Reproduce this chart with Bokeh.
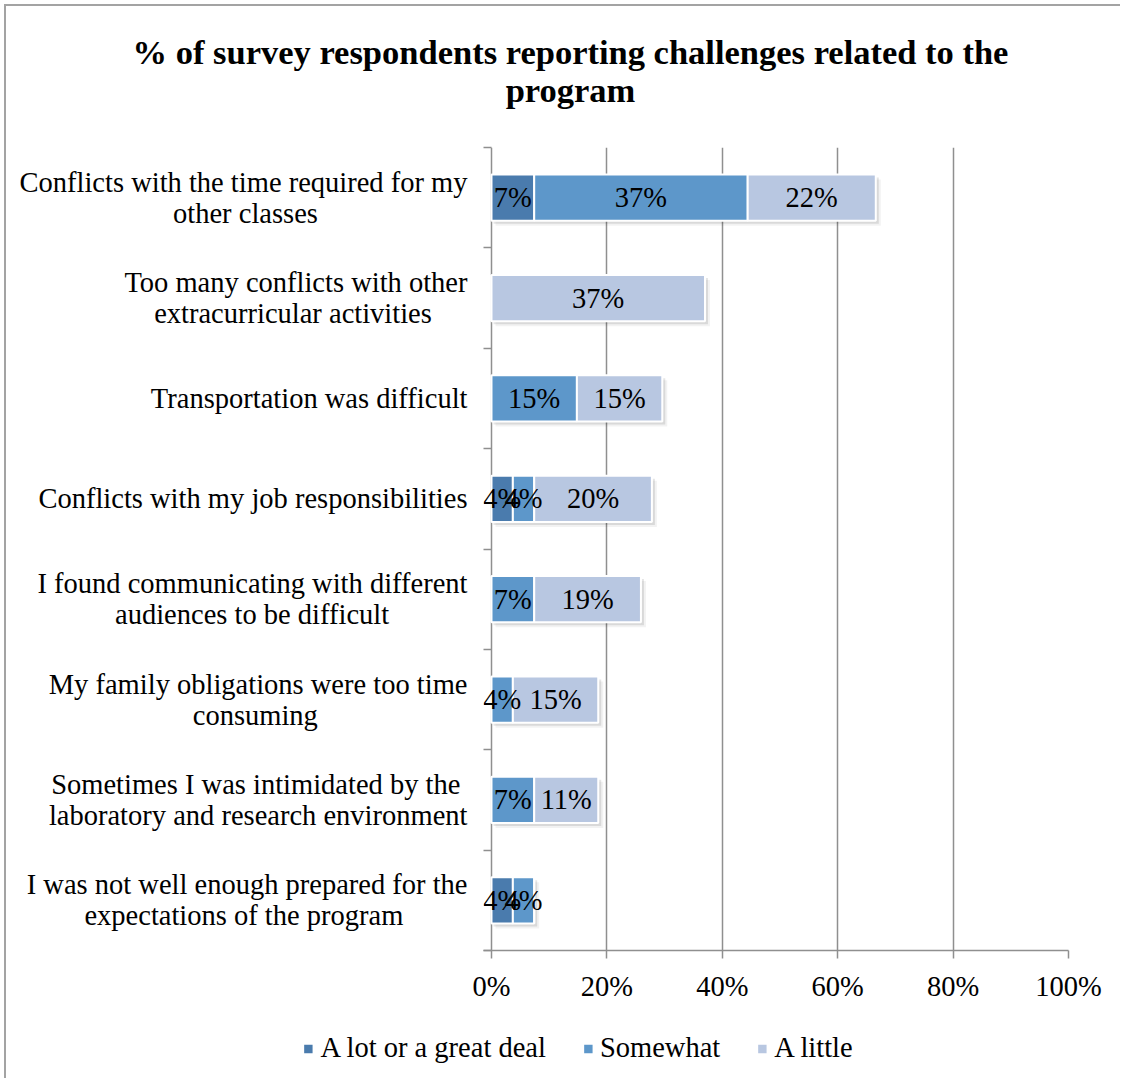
from bokeh.plotting import figure
from bokeh.layouts import column
from bokeh.models import (Range1d, FixedTicker, PrintfTickFormatter, ColumnDataSource,
                          Legend, LegendItem)
from bokeh.core.properties import value
from bokeh.embed import file_html
from bokeh.resources import INLINE

# ---------------- data ----------------
categories = [
    "Conflicts with the time required for my\nother classes",
    "Too many conflicts with other\nextracurricular activities",
    "Transportation was difficult",
    "Conflicts with my job responsibilities",
    "I found communicating with different\naudiences to be difficult",
    "My family obligations were too time\nconsuming",
    "Sometimes I was intimidated by the\nlaboratory and research environment",
    "I was not well enough prepared for the\nexpectations of the program",
]
a_lot = [7.4, 0, 0, 3.7, 0, 0, 0, 3.7]
somewhat = [37.0, 0, 14.8, 3.7, 7.4, 3.7, 7.4, 3.7]
a_little = [22.2, 37.0, 14.8, 20.4, 18.5, 14.8, 11.1, 0]
series_names = ["A lot or a great deal", "Somewhat", "A little"]
x_ticks = [0, 20, 40, 60, 80, 100]
title_lines = ["% of survey respondents reporting challenges related to the", "program"]

# ---------------- style ----------------
FONT = "Liberation Serif"
COLORS = ["#4A7BAD", "#5D97CA", "#B8C7E1"]
GRID = "#8f8f8f"
FS = 28.5        # text size px
TS = 34.5        # title size px
TICK = 8         # category tick length px

ORIGIN = 6                                   # canvas origin on the page
W, HT, H1, H2 = 1114, 135, 877, 60           # title strip, chart, legend strip heights
TOP = 6                                      # chart frame top inside the chart figure
X0, FR = 485, 1062                           # x=0 position and frame right (figure px)
FL = X0 - TICK                               # frame starts a tick length left of x=0
FB = TOP + 803                               # frame bottom

# approximate glyph advance widths (1/1000 em) of Liberation Serif, for centring lines
REG = {' ': 250, 'a': 444, 'b': 500, 'c': 444, 'd': 500, 'e': 444, 'f': 333, 'g': 500,
       'h': 500, 'i': 278, 'j': 278, 'k': 500, 'l': 278, 'm': 778, 'n': 500, 'o': 500,
       'p': 500, 'q': 500, 'r': 333, 's': 389, 't': 278, 'u': 500, 'v': 500, 'w': 722,
       'x': 500, 'y': 500, 'z': 444, 'C': 667, 'I': 333, 'M': 889, 'S': 556, 'T': 611}
NBSP = "\u00a0"


def width(s, table):
    return sum(table.get(ch, 500) for ch in s)


def centred(lines, table):
    wmax = max(width(l, table) for l in lines)
    out = []
    for l in lines:
        out.append(l + NBSP * int(round((wmax - width(l, table)) / 2 / 250)))
    return "\n".join(out)


def strip(height, **kw):
    f = figure(width=W, height=height, output_backend="svg", toolbar_location=None,
               x_range=Range1d(0, W), y_range=Range1d(height, 0),
               x_axis_type=None, y_axis_type=None, min_border=0, **kw)
    f.frame_align = False
    f.outline_line_color = None
    f.grid.visible = False
    return f


# ---------------- title strip ----------------
pt = strip(HT)
pt.text(x=[570 - ORIGIN] * 2, y=[51 - ORIGIN, 89 - ORIGIN], text=title_lines,
        text_align="center", text_baseline="middle", text_font=value(FONT),
        text_font_size=f"{TS}px", text_font_style="bold", text_color="black")

# ---------------- chart ----------------
n = len(categories)
px_x = 100.0 / (FR - X0)
px_y = n / (FB - TOP)
p = figure(width=W, height=H1, output_backend="svg", toolbar_location=None,
           x_range=Range1d(-TICK * px_x, 100), y_range=Range1d(n, 0),
           min_border_left=FL, min_border_right=W - FR,
           min_border_top=TOP, min_border_bottom=H1 - FB)
p.frame_align = False
p.outline_line_color = None
p.background_fill_color = "white"
p.border_fill_color = "white"

ys = [i + 0.5 for i in range(n)]
series = [a_lot, somewhat, a_little]
left = [0.0] * n
sources = []
labels_x, labels_y, labels_t = [], [], []
for vals in series:
    right = [l + v for l, v in zip(left, vals)]
    sources.append(ColumnDataSource(dict(y=ys, left=left, right=right)))
    for i in range(n):
        if vals[i] > 0:
            labels_x.append((left[i] + right[i]) / 2)
            labels_y.append(ys[i])
            labels_t.append(f"{int(vals[i] + 0.5)}%")
    left = right
totals = left

# soft shadow under each stacked bar
for off, alpha in [(3, 0.10), (5, 0.05)]:
    sh = ColumnDataSource(dict(y=[y + off * px_y for y in ys],
                               left=[(off - 1) * px_x] * n,
                               right=[t + off * px_x if t > 0 else 0 for t in totals]))
    p.hbar(y="y", left="left", right="right", height=0.46, source=sh,
           fill_color="black", fill_alpha=alpha, line_color=None)

for k, src in enumerate(sources):
    p.hbar(y="y", left="left", right="right", height=0.46, source=src,
           fill_color=COLORS[k], line_color="white", line_width=2)

p.text(x=labels_x, y=labels_y, text=labels_t, text_align="center",
       text_baseline="middle", text_font=value(FONT), text_font_size=f"{FS}px",
       text_color="black")

# ---------------- axes ----------------
xa = p.xaxis[0]
xa.ticker = FixedTicker(ticks=x_ticks)
xa.formatter = PrintfTickFormatter(format="%d%%")
xa.axis_line_color = GRID
xa.axis_line_width = 1.5
xa.major_tick_line_color = GRID
xa.major_tick_line_width = 1.5
xa.major_tick_out = 8
xa.major_tick_in = 0
xa.minor_tick_line_color = None
xa.major_label_text_font = FONT
xa.major_label_text_font_size = f"{FS}px"
xa.major_label_text_color = "black"
xa.major_label_standoff = 12

# category axis: its line is the x=0 grid line; the category boundary ticks are drawn
# inward over the strip between the frame edge and x=0
ya = p.yaxis[0]
ya.ticker = FixedTicker(ticks=ys, minor_ticks=list(range(n + 1)))
ya.major_label_overrides = {y: centred(c.split("\n"), REG) for y, c in zip(ys, categories)}
ya.axis_line_color = None
ya.major_tick_line_color = None
ya.major_tick_out = 0
ya.major_tick_in = 0
ya.minor_tick_line_color = GRID
ya.minor_tick_line_width = 1.5
ya.minor_tick_out = 0
ya.minor_tick_in = TICK
ya.major_label_text_font = FONT
ya.major_label_text_font_size = f"{FS}px"
ya.major_label_text_color = "black"
ya.major_label_text_line_height = 1.0
ya.major_label_standoff = 16

p.xgrid.ticker = FixedTicker(ticks=x_ticks)
p.xgrid.grid_line_color = GRID
p.xgrid.grid_line_width = 1.5
p.ygrid.grid_line_color = None

# ---------------- legend strip ----------------
pl = strip(H2, min_border_left=28)
pl.x_range = Range1d(0, 1)
pl.y_range = Range1d(0, 1)
items = []
for nm, col in zip(series_names, COLORS):
    r = pl.hbar(y=[-5], left=[0], right=[1], height=0.5, fill_color=col,
                line_color="white", line_width=2)
    items.append(LegendItem(label=nm, renderers=[r]))
legend = Legend(items=items, orientation="horizontal", location="center",
                glyph_width=13, glyph_height=13, label_standoff=6, spacing=35,
                padding=0, margin=0, border_line_color=None, background_fill_alpha=0,
                label_text_font=FONT, label_text_font_size=f"{FS}px", label_text_color="black")
pl.add_layout(legend, "center")

layout = column(pt, p, pl, spacing=0)
layout.styles = {"margin-left": "4px", "margin-top": "4px",
                 "border-left": "2px solid #a3a3a3", "border-top": "2px solid #a3a3a3"}

open("out.html", "w").write(file_html(layout, INLINE))
